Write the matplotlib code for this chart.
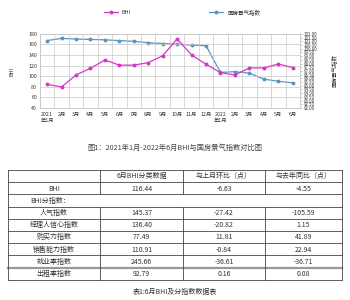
import numpy as np
import matplotlib
matplotlib.use("Agg")
import matplotlib.pyplot as plt

plt.rcParams['font.family'] = ['Noto Sans CJK SC', 'DejaVu Sans']

# chart data
months = ["2021\n年1月", "2月", "3月", "4月", "5月", "6月", "7月", "8月", "9月", "10月",
          "11月", "12月", "2022\n年1月", "2月", "3月", "4月", "5月", "6月"]
bhi = [84.8, 79.7, 102.4, 115.0, 130.8, 121.0, 121.0, 125.7, 138.8, 170.5,
       140.3, 122.6, 106.8, 102.4, 115.7, 115.7, 123.1, 116.4]
grf = [101.1, 101.4, 101.3, 101.25, 101.2, 101.1, 101.0, 100.8, 100.7, 100.6,
       100.5, 100.4, 96.8, 96.9, 96.7, 95.9, 95.6, 95.4]

# table data
tbl_header = ["", "6月BHI分类数据", "与上月环比（点）", "与去年同比（点）"]
tbl_names = ["人气指数", "经理人信心指数", "购买力指数", "销售能力指数", "就业率指数", "出租率指数"]
tbl_value = ["145.37", "136.40", "77.49", "110.91", "245.66", "92.79"]
tbl_mom = ["-27.42", "-20.82", "11.81", "-0.84", "-36.61", "0.16"]
tbl_yoy = ["-105.59", "1.15", "41.89", "22.94", "-36.71", "0.08"]
bhi_row = ["BHI", "116.44", "-6.63", "-4.55"]

c_bhi = '#d735c8'
c_grf = '#5b95bf'
txt = '#333333'

fig = plt.figure(figsize=(3.5, 3.0), dpi=100)

# ---- line chart ----
ax = fig.add_axes([0.114, 0.64, 0.743, 0.247])
ax2 = ax.twinx()
x = np.arange(len(months))

l2, = ax2.plot(x, grf, color=c_grf, lw=0.9, marker='o', ms=1.8, label='国房景气指数')
l1, = ax.plot(x, bhi, color=c_bhi, lw=0.9, marker='o', ms=1.8, label='BHI')
ax.set_zorder(ax2.get_zorder() + 1)
ax.patch.set_visible(False)

ax.set_xlim(-0.5, len(months) - 0.5)
ax.set_ylim(40, 180)
ax.set_yticks(np.arange(40, 181, 20))
ax.set_xticks(x)
ax.set_xticklabels(months, fontsize=3.8, color=txt, linespacing=1.1)
ax.set_xticks(np.arange(-0.5, len(months), 1), minor=True)
ax.grid(True, which='major', axis='y', color='#c8c8c8', lw=0.5)
ax.grid(True, which='minor', axis='x', color='#c8c8c8', lw=0.5)
ax.tick_params(axis='y', labelsize=3.8, colors=txt, length=0, pad=2)
ax.tick_params(axis='x', which='both', length=0, pad=3)
ax.set_ylabel('BHI', fontsize=4, color=txt, labelpad=10)

ax2.set_ylim(92, 102)
rt = np.arange(92, 102.01, 0.5)
ax2.set_yticks(rt)
ax2.set_yticklabels(["%.2f" % v for v in rt], fontsize=3.2, color=txt)
ax2.tick_params(axis='y', length=1.2, width=0.4, colors='#999999', labelcolor=txt, pad=1.5)
ax2.set_ylabel('国房景气指数', fontsize=4, color=txt, labelpad=10)

for a in (ax, ax2):
    for s in a.spines.values():
        s.set_color('#c8c8c8')
        s.set_linewidth(0.5)

fig.legend([l1, l2], ['BHI', '国房景气指数'], loc='upper center',
           bbox_to_anchor=(0.52, 0.985), ncol=2, fontsize=4, frameon=False,
           columnspacing=14, handlelength=2.5, labelcolor=txt)

# ---- caption + table in pixel coords ----
tax = fig.add_axes([0, 0, 1, 1])
tax.set_xlim(0, 350)
tax.set_ylim(300, 0)
tax.axis('off')

tax.text(175, 148, "图1：2021年1月-2022年6月BHI与国房景气指数对比图",
         ha='center', va='center', fontsize=5.2, color='#444444')

cols = [8, 100, 183, 265, 342]
top = 170
rh = 12.2
nrows = 9
ys = [top + i * rh for i in range(nrows + 1)]
lc = '#444444'

for i, y in enumerate(ys):
    tax.plot([cols[0], cols[-1]], [y, y], color=lc, lw=0.6, zorder=1)
# thick grey separator before last row
tax.plot([cols[0], cols[-1]], [ys[8], ys[8]], color='#999999', lw=1.6, zorder=1)

for j, cx in enumerate(cols):
    if j in (0, len(cols) - 1):
        tax.plot([cx, cx], [ys[0], ys[-1]], color=lc, lw=0.6, zorder=1)
    else:
        tax.plot([cx, cx], [ys[0], ys[2]], color=lc, lw=0.6, zorder=1)
        tax.plot([cx, cx], [ys[3], ys[-1]], color=lc, lw=0.6, zorder=1)

centers = [(cols[k] + cols[k + 1]) / 2 for k in range(4)]


def row_text(r, items):
    yc = (ys[r] + ys[r + 1]) / 2 + 0.3
    for k, t in enumerate(items):
        tax.text(centers[k], yc, t, ha='center', va='center', fontsize=5,
                 color=txt, zorder=3)


row_text(0, tbl_header)
row_text(1, bhi_row)
tax.text(30, (ys[2] + ys[3]) / 2 + 0.3, "BHI分指数：", ha='left', va='center',
         fontsize=5, color=txt, zorder=3)
for i in range(len(tbl_names)):
    row_text(3 + i, [tbl_names[i], tbl_value[i], tbl_mom[i], tbl_yoy[i]])

tax.text(175, 292, "表1:6月BHI及分指数数据表", ha='center', va='center',
         fontsize=5, color=txt)

fig.savefig("out.png", dpi=100)
